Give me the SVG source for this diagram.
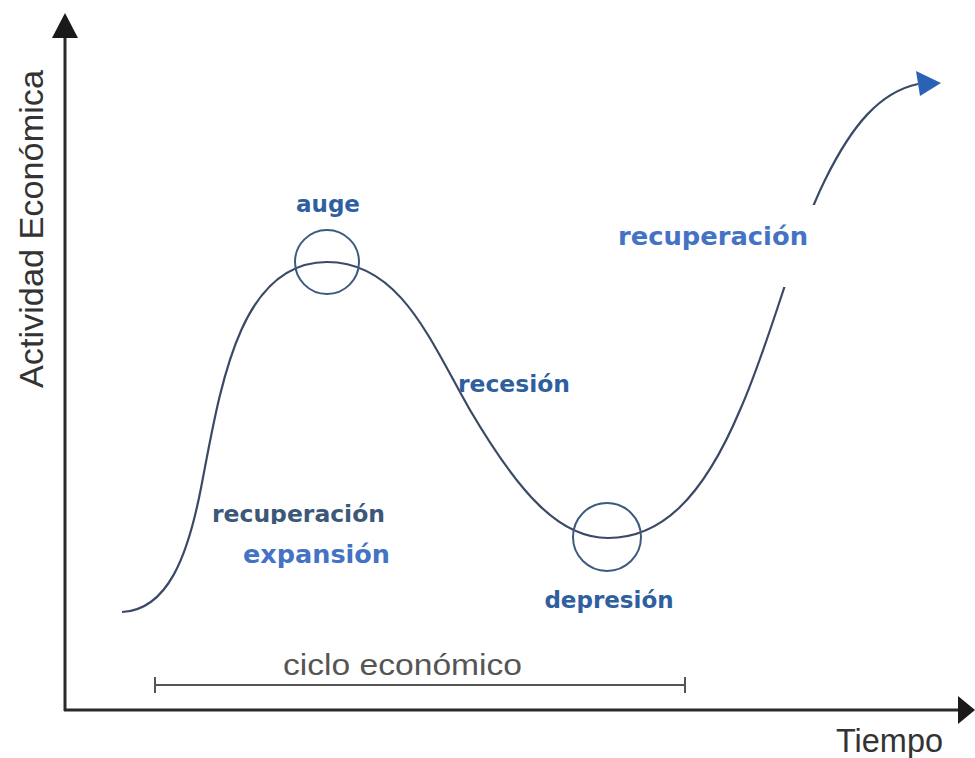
<svg xmlns="http://www.w3.org/2000/svg" width="975" height="758" viewBox="0 0 975 758">
<style>
.axis{stroke:#2a2a2a;stroke-width:3;fill:none}
.curve{stroke:#3a4a66;stroke-width:2.2;fill:none}
.ring{stroke:#3d5a80;stroke-width:2;fill:none}
.lbl{font-family:"DejaVu Sans","Liberation Sans",sans-serif;font-weight:bold;font-size:23px;fill:#2f5f9e}
.big{font-family:"DejaVu Sans","Liberation Sans",sans-serif;font-weight:bold;font-size:25px;fill:#4472c4}
.ax{font-family:"Liberation Sans",Arial,sans-serif;font-size:33px;fill:#333}
</style>
<rect width="975" height="758" fill="#ffffff"/>
<g id="axes">
<line class="axis" x1="65" y1="30" x2="65" y2="711"/>
<polygon points="65,13 52,38 78,38" fill="#1a1a1a"/>
<line class="axis" x1="64" y1="710" x2="962" y2="710"/>
<polygon points="975,710 958,696 958,724" fill="#1a1a1a"/>
<text class="ax" transform="translate(43,388) rotate(-90)" textLength="318" lengthAdjust="spacingAndGlyphs">Actividad Económica</text>
<text class="ax" x="836" y="752" textLength="107" lengthAdjust="spacingAndGlyphs">Tiempo</text>
</g>
<g id="connectors">
<path class="curve" d="M122,612 C168,610 188,555 201,488 C220,390 238,262 327,262 C400,262 430,340 470,410 C520,495 560,538 608,538 C660,538 702,500 740,410 C772,338 795,240 825,180 C852,125 880,92 918,84"/>
<polygon points="916,71 941,83 920,96" fill="#2a62b5"/>
</g>
<g id="auge">
<circle class="ring" cx="327" cy="262" r="32"/>
<text class="lbl" x="328" y="212" text-anchor="middle">auge</text>
</g>
<g id="recesion">
<text class="lbl" x="458" y="392" textLength="112" lengthAdjust="spacingAndGlyphs">recesión</text>
</g>
<g id="depresion">
<circle class="ring" cx="607" cy="537" r="34"/>
<text class="lbl" x="609" y="608" text-anchor="middle">depresión</text>
</g>
<g id="recuperacion-expansion">
<text class="lbl" x="212" y="522" style="fill:#3b5878" textLength="173" lengthAdjust="spacingAndGlyphs">recuperación</text>
<rect x="208" y="524" width="195" height="60" fill="#ffffff"/>
<text class="big" x="243" y="563" textLength="147" lengthAdjust="spacingAndGlyphs">expansión</text>
</g>
<g id="recuperacion">
<rect x="605" y="205" width="232" height="82" fill="#ffffff"/>
<text class="big" x="618" y="245" textLength="190" lengthAdjust="spacingAndGlyphs">recuperación</text>
</g>
<g id="ciclo">
<line x1="155" y1="685" x2="685" y2="685" stroke="#555" stroke-width="2"/>
<line x1="155" y1="677" x2="155" y2="693" stroke="#555" stroke-width="2"/>
<line x1="685" y1="677" x2="685" y2="693" stroke="#555" stroke-width="2"/>
<text class="ax" x="283" y="675" style="font-size:30px;fill:#555" textLength="239" lengthAdjust="spacingAndGlyphs">ciclo económico</text>
</g>
</svg>
